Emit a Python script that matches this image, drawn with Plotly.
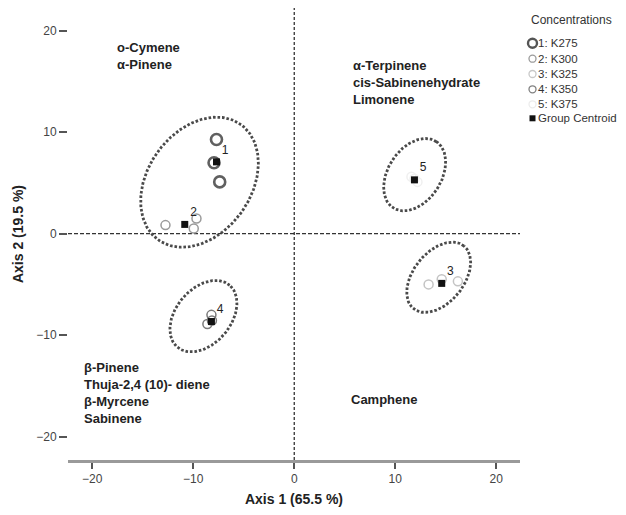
import numpy as np
import plotly.graph_objects as go

# ---------------- data ----------------
group_names = ["1: K275", "2: K300", "3: K325", "4: K350", "5: K375"]
group1_x = [-7.70, -7.94, -7.38]
group1_y = [9.28, 6.98, 5.10]
group2_x = [-12.75, -9.68, -9.95]
group2_y = [0.84, 1.50, 0.51]
group3_x = [13.3, 14.6, 16.2]
group3_y = [-5.0, -4.5, -4.7]
group4_x = [-8.2, -8.6, -8.15]
group4_y = [-8.0, -8.9, -8.56]
group5_x = [11.6, 12.2, 11.9]
group5_y = [5.6, 5.1, 5.4]

centroid_labels = ["1", "2", "3", "4", "5"]
centroid_x = [-7.70, -10.84, 14.6, -8.2, 11.9]
centroid_y = [7.07, 0.91, -4.9, -8.66, 5.3]

# confidence ellipses: centre x, centre y, semi-major, semi-minor, angle (deg)
ellipse_cx = [-9.38, -8.99, 11.92, 14.3]
ellipse_cy = [5.07, -8.13, 5.81, -4.3]
ellipse_a = [7.0, 4.0, 3.9, 3.97]
ellipse_b = [5.1, 2.72, 2.63, 2.5]
ellipse_angle = [54, 49.5, 56.6, 51]

x_ticks = [-20, -10, 0, 10, 20]
y_ticks = [-20, -10, 0, 10, 20]

quad_texts = [
    "o-Cymene<br>α-Pinene",
    "α-Terpinene<br>cis-Sabinenehydrate<br>Limonene",
    "β-Pinene<br>Thuja-2,4 (10)- diene<br>β-Myrcene<br>Sabinene",
    "Camphene",
]
quad_x = [-17.77, 5.66, -21.0, 5.4]
quad_y = [17.5, 14.85, -15.7, -16.3]

# ---------------- styles ----------------
FONT = "Liberation Sans, Arial, sans-serif"
grp_colors = ["#606060", "#9a9a9a", "#c4c4c4", "#7a7a7a", "#f0f0f0"]
grp_sizes = [11, 9, 9, 9, 9]
grp_widths = [2.6, 1.5, 1.5, 1.5, 1.5]
groups_x = [group1_x, group2_x, group3_x, group4_x, group5_x]
groups_y = [group1_y, group2_y, group3_y, group4_y, group5_y]

X_RANGE = [-22.4, 22.35]
Y_RANGE = [-22.3, 22.23]

# the page body adds an 8px margin on each side; size the figure so it fits the window
OFF = 8
FIG_W, FIG_H = 626 - 2 * OFF, 515 - 2 * OFF
PLOT_L, PLOT_W, PLOT_B, PLOT_H = 68, 452, 460, 452   # page pixels

fig = go.Figure()

# ellipses
t = np.linspace(0, 2 * np.pi, 200)
for cx, cy, a, b, ang in zip(ellipse_cx, ellipse_cy, ellipse_a, ellipse_b, ellipse_angle):
    th = np.deg2rad(ang)
    ex = cx + a * np.cos(t) * np.cos(th) - b * np.sin(t) * np.sin(th)
    ey = cy + a * np.cos(t) * np.sin(th) + b * np.sin(t) * np.cos(th)
    fig.add_trace(go.Scatter(x=ex, y=ey, mode="lines", showlegend=False, hoverinfo="skip",
                             line=dict(color="#4a4a4a", width=2.8, dash="2.6px,1.9px")))

# group points
for name, gx, gy, c, s, w in zip(group_names, groups_x, groups_y, grp_colors, grp_sizes, grp_widths):
    fig.add_trace(go.Scatter(x=gx, y=gy, mode="markers", name=name, showlegend=False,
                             marker=dict(symbol="circle-open", size=s, color=c, line=dict(width=w, color=c))))

# centroids
fig.add_trace(go.Scatter(x=centroid_x, y=centroid_y, mode="markers+text", name="Group Centroid",
                         showlegend=False, text=centroid_labels, textposition="top right",
                         textfont=dict(family=FONT, size=12, color="#222"),
                         marker=dict(symbol="square", size=7, color="#111")))

# reference lines at zero
fig.add_shape(type="line", xref="x", yref="y", x0=X_RANGE[0], x1=X_RANGE[1], y0=0, y1=0,
              line=dict(color="#333", width=1.3, dash="4px,2px"), layer="below")
fig.add_shape(type="line", xref="x", yref="y", x0=0, x1=0, y0=Y_RANGE[0], y1=Y_RANGE[1],
              line=dict(color="#333", width=1.3, dash="3px,2px"), layer="below")

# quadrant annotations
for txt, qx, qy in zip(quad_texts, quad_x, quad_y):
    fig.add_annotation(x=qx, y=qy, xref="x", yref="y", text="<b>" + txt + "</b>", showarrow=False,
                       xanchor="left", yanchor="middle", align="left",
                       font=dict(family=FONT, size=13, color="#222"))

# custom compact legend
def px2paper(px, py):
    return (px - PLOT_L) / PLOT_W, (PLOT_B - py) / PLOT_H

lx, ly = px2paper(529, 19.5)
fig.add_annotation(x=lx, y=ly, xref="paper", yref="paper", text="Concentrations", showarrow=False,
                   xanchor="left", yanchor="middle", font=dict(family=FONT, size=12, color="#333"))
legend_rows = [43.3, 58.7, 74.0, 89.3, 104.3, 118.3]
legend_labels = group_names + ["Group Centroid"]
leg_sym_colors = ["#555555", "#9a9a9a", "#c8c8c8", "#808080", "#ececec", "#111111"]
for i, (row, lab) in enumerate(zip(legend_rows, legend_labels)):
    tx, ty = px2paper(536, row)
    sx, _ = px2paper(532.5, row)
    fig.add_annotation(x=tx, y=ty, xref="paper", yref="paper", text=lab, showarrow=False,
                       xanchor="left", yanchor="middle", font=dict(family=FONT, size=11.5, color="#333"))
    if i < 5:
        r = 4.5 if i == 0 else 3.5
        fig.add_shape(type="circle", xref="paper", yref="paper", xsizemode="pixel", ysizemode="pixel",
                      xanchor=sx, yanchor=ty, x0=-r, x1=r, y0=-r, y1=r,
                      line=dict(color=leg_sym_colors[i], width=2.4 if i == 0 else 1.3))
    else:
        fig.add_shape(type="rect", xref="paper", yref="paper", xsizemode="pixel", ysizemode="pixel",
                      xanchor=sx, yanchor=ty, x0=-3, x1=3, y0=-3, y1=3,
                      line=dict(width=0), fillcolor=leg_sym_colors[i])

fig.update_layout(
    width=FIG_W, height=FIG_H,
    margin=dict(l=PLOT_L - OFF, r=FIG_W - (PLOT_L - OFF) - PLOT_W, t=0,
                b=FIG_H - (PLOT_B - OFF)),
    paper_bgcolor="white", plot_bgcolor="white",
    font=dict(family=FONT, size=12, color="#444"),
    showlegend=False,
    xaxis=dict(range=X_RANGE, tickvals=x_ticks, showgrid=False, zeroline=False, automargin=False,
               showline=True, linecolor="#9a9a9a", linewidth=2.5,
               ticks="outside", ticklen=6, tickwidth=1.5, tickcolor="#555",
               tickfont=dict(family=FONT, size=12, color="#444"),
               title=dict(text="<b>Axis 1 (65.5 %)</b>", standoff=16,
                          font=dict(family=FONT, size=14, color="#222"))),
    yaxis=dict(range=Y_RANGE, tickvals=y_ticks, showgrid=False, zeroline=False, automargin=False,
               showline=False, ticks="outside", ticklen=8, tickwidth=1.5, tickcolor="#555",
               tickfont=dict(family=FONT, size=12, color="#444"),
               title=dict(text="<b>Axis 2 (19.5 %)</b>", standoff=9,
                          font=dict(family=FONT, size=14, color="#222"))),
)

fig.write_html("out.html")
